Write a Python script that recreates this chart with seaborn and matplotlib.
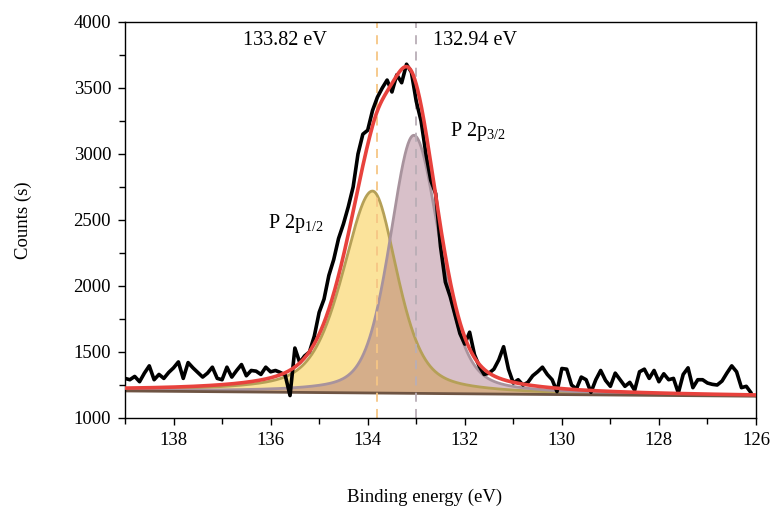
import numpy as np
import pandas as pd
import matplotlib
matplotlib.use("Agg")
import matplotlib.pyplot as plt
from matplotlib.ticker import MultipleLocator
import seaborn as sns

# ---------------- data ----------------
# measured spectrum, 0.1 eV steps from 139.0 eV down to 126.1 eV
energy_start, energy_step = 139.0, 0.1
counts = [
    1300, 1290, 1315, 1275, 1340, 1395, 1290, 1330, 1300, 1345,
    1380, 1425, 1300, 1420, 1380, 1345, 1310, 1340, 1385, 1300,
    1290, 1385, 1310, 1360, 1405, 1320, 1360, 1355, 1330, 1385,
    1350, 1360, 1345, 1325,
    1170, 1530, 1420, 1470, 1500, 1620, 1800, 1900, 2080, 2200,
    2360, 2470, 2600, 2750, 3000, 3150, 3180, 3330, 3430, 3500,
    3560, 3470, 3600, 3540, 3680, 3620,
    3400, 3250, 3000, 2800, 2700, 2300, 2030, 1920, 1780, 1640,
    1560, 1650, 1480, 1390, 1330, 1340, 1370, 1440, 1540, 1370,
    1265, 1290, 1250, 1270,
    1320, 1350, 1385, 1330, 1290, 1200, 1375, 1370, 1250, 1220,
    1310, 1290, 1195, 1290, 1360, 1285, 1240, 1340, 1290, 1240,
    1270, 1210, 1350, 1370, 1300, 1360, 1275, 1335, 1290, 1300,
    1190, 1330, 1380, 1230, 1290, 1290, 1265, 1255, 1250, 1280,
    1340, 1395, 1350, 1230, 1240, 1190,
]
energy = energy_start - energy_step * np.arange(len(counts))

# fitted components (asymmetric pseudo-Voigt parameters)
peak_names = ["P 2p1/2", "P 2p3/2"]
peak_centers = [133.90, 133.05]
peak_heights = [1530, 1955]
peak_fwhm_high_be = [1.45, 1.15]
peak_fwhm_low_be = [1.20, 1.25]
peak_lorentz_frac = [0.50, 0.35]

# linear background end points
bg_energy = [139.0, 126.0]
bg_counts = [1205, 1165]

# marked positions
marker_lines = [133.8, 133.0]
marker_labels = ["133.82 eV", "132.94 eV"]

# ---------------- style ----------------
sns.set_theme(style="ticks")
plt.rcParams["font.family"] = ["Liberation Serif", "DejaVu Serif"]
plt.rcParams["mathtext.fontset"] = "custom"
plt.rcParams["mathtext.rm"] = "Liberation Serif"
plt.rcParams["mathtext.it"] = "Liberation Serif:italic"
plt.rcParams["text.color"] = "black"

fig = plt.figure(figsize=(7.7, 5.09), dpi=100)
ax = fig.add_axes([125 / 770, 1 - 418 / 509, 631 / 770, 396 / 509])

# model grid
E = np.linspace(139.0, 126.0, 1301)
bg = np.interp(E, bg_energy[::-1], bg_counts[::-1])


def pvoigt(x, c, h, wl, wr, eta):
    w = np.where(x > c, wl, wr)
    t = 4.0 * (x - c) ** 2 / w ** 2
    return h * (eta / (1.0 + t) + (1.0 - eta) * np.exp(-np.log(2) * t))


comps = [pvoigt(E, peak_centers[i], peak_heights[i], peak_fwhm_high_be[i],
                peak_fwhm_low_be[i], peak_lorentz_frac[i]) for i in range(2)]
envelope = bg + comps[0] + comps[1]

# fills
ax.fill_between(E, bg, bg + comps[0], color="#FBE39B", lw=0, zorder=1)
ax.fill_between(E, bg, bg + comps[1], color="#D8C0C9", lw=0, zorder=1.1)
ax.fill_between(E, bg, bg + np.minimum(comps[0], comps[1]), color="#D5AE8A",
                lw=0, zorder=1.2)

df_comp = pd.DataFrame({"E": E, "y1": bg + comps[0], "y2": bg + comps[1],
                        "bg": bg, "env": envelope})
sns.lineplot(data=df_comp, x="E", y="y1", ax=ax, color="#B5A057", lw=2.0,
             zorder=2, sort=False)
sns.lineplot(data=df_comp, x="E", y="y2", ax=ax, color="#A8939D", lw=2.0,
             zorder=2.1, sort=False)
sns.lineplot(data=df_comp, x="E", y="bg", ax=ax, color="#6E5443", lw=2.0,
             zorder=2.2, sort=False)

# dashed markers
ax.axvline(marker_lines[0], color="#F6C685", lw=1.3, ls=(0, (5, 4)), zorder=2.5)
ax.axvline(marker_lines[1], color="#B9AEB6", lw=1.3, ls=(0, (5, 4)), zorder=2.5)

# measured data
df_meas = pd.DataFrame({"E": energy, "counts": counts})
sns.lineplot(data=df_meas, x="E", y="counts", ax=ax, color="black", lw=2.6,
             zorder=3, sort=False)

# envelope
sns.lineplot(data=df_comp, x="E", y="env", ax=ax, color="#E8423D", lw=2.6,
             zorder=4, sort=False)

# text
ax.text(135.70, 3860, marker_labels[0], ha="center", va="center",
        fontsize=14.5, color="black")
ax.text(131.79, 3860, marker_labels[1], ha="center", va="center",
        fontsize=14.5, color="black")
ax.text(135.48, 2470, r"P 2p$\mathregular{_{1/2}}$", ha="center", va="center",
        fontsize=14.5, color="black")
ax.text(131.72, 3170, r"P 2p$\mathregular{_{3/2}}$", ha="center", va="center",
        fontsize=14.5, color="black")

# axes
ax.set_xlim(139, 126)
ax.set_ylim(1000, 4000)
ax.xaxis.set_major_locator(MultipleLocator(2))
ax.xaxis.set_minor_locator(MultipleLocator(1))
ax.yaxis.set_major_locator(MultipleLocator(500))
ax.yaxis.set_minor_locator(MultipleLocator(250))
ax.tick_params(which="both", direction="out", top=False, right=False,
               labelsize=13.5, width=1, color="black", labelcolor="black")
ax.tick_params(which="major", length=5, pad=5)
ax.tick_params(which="minor", length=4)
for s in ax.spines.values():
    s.set_visible(True)
    s.set_color("black")
    s.set_linewidth(1.0)
ax.set_xlabel("Binding energy (eV)", fontsize=13.5, color="black")
ax.xaxis.set_label_coords(0.474, -0.178)
ax.set_ylabel("Counts (s)", fontsize=13.5, labelpad=30, color="black")
ax.set_facecolor("white")
ax.grid(False)

fig.savefig("out.png", dpi=100)
